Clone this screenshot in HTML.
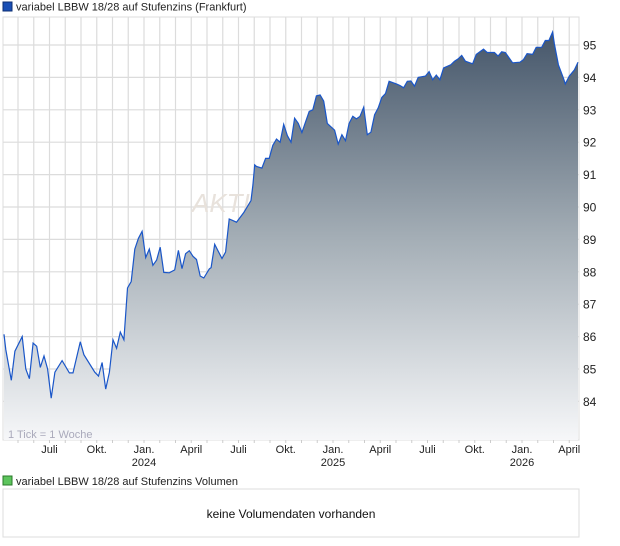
<!DOCTYPE html>
<html><head><meta charset="utf-8"><style>
html,body{margin:0;padding:0;background:#fff;width:620px;height:546px;overflow:hidden;font-family:"Liberation Sans",sans-serif;}
svg text{font-family:"Liberation Sans",sans-serif;}
</style></head><body>
<svg id="chart" width="620" height="546" viewBox="0 0 620 546" xmlns="http://www.w3.org/2000/svg">
<defs>
<linearGradient id="fillg" x1="0" y1="0" x2="0" y2="1">
<stop offset="0" stop-color="#45566a"/><stop offset="0.5" stop-color="#a3adb5"/><stop offset="1" stop-color="#f6f7f9"/>
</linearGradient>
</defs>
<rect x="3" y="2" width="9" height="9" fill="#1a4fb5" stroke="#0d2f73" stroke-width="1"/>
<text x="16" y="10.5" font-size="11" fill="#222">variabel LBBW 18/28 auf Stufenzins (Frankfurt)</text>
<rect x="3" y="17" width="576" height="423" fill="#fff" stroke="#ddd"/>
<g id="grid"></g>
<text x="192" y="212" font-size="26" font-style="italic" fill="#e8e2dc">AKTIENCHECK</text>
<g id="series"></g>
<text x="8" y="438" font-size="11" fill="#aab">1 Tick = 1 Woche</text>
<g id="yaxis"></g>
<g id="xaxis"></g>
<rect x="3" y="476" width="9" height="9" fill="#5cc45c" stroke="#2a7a2a" stroke-width="1"/>
<text x="16" y="485" font-size="11" fill="#222">variabel LBBW 18/28 auf Stufenzins Volumen</text>
<rect x="3" y="489" width="576" height="48" fill="#fff" stroke="#ddd"/>
<text x="291" y="518" font-size="12" fill="#111" text-anchor="middle">keine Volumendaten vorhanden</text>
</svg>
<script>
const weeks=[0,0.5,2,3,5,6,7,8,9,10,11,12,13,14,16,18,19,21,22,25,26,27,28,29,30,31,32,33,33.5,34,35,36,37,38,39,40,41,42,43,44,45.5,47,48,49,50,51,52,53,54,55,56.5,57,58,59,60,61,62,63,64,66,68,68.5,69,69.5,71,72,73,74,75,76,77,78,79,80,81,82,84,85,86,87,88,89,91,92,93,94,95,96,97,98,99,100,101,102,103,104,105,106,108,109,110,111,112,113,114,116,117,118,119,120,121,123,124,125,126,127,129,130,132,133,135,136,137,138,140,142,143,144,145.5,146.5,148,149,150,151,151.5,152.6,154,154.5,155.6,157,158];
const prices=[86.07,85.6,84.65,85.55,86.0,85.0,84.7,85.8,85.7,85.05,85.4,85.0,84.1,84.9,85.26,84.88,84.88,85.84,85.44,84.9,84.78,85.2,84.38,84.9,85.9,85.64,86.14,85.9,86.7,87.5,87.7,88.7,89.03,89.25,88.44,88.7,88.2,88.36,88.76,87.98,87.97,88.06,88.66,88.1,88.56,88.65,88.48,88.38,87.87,87.81,88.09,88.13,88.85,88.63,88.41,88.61,89.63,89.58,89.53,89.83,90.2,90.68,91.3,91.25,91.2,91.5,91.5,91.9,92.1,92.0,92.55,92.2,92.0,92.74,92.58,92.3,92.95,93.0,93.43,93.46,93.27,92.58,92.37,91.94,92.23,92.05,92.58,92.8,92.72,92.8,93.08,92.23,92.31,92.85,93.06,93.38,93.5,93.88,93.8,93.75,93.68,93.88,93.89,93.73,94.0,94.04,94.18,93.93,94.07,93.93,94.29,94.39,94.5,94.57,94.68,94.5,94.42,94.71,94.87,94.77,94.77,94.66,94.79,94.77,94.45,94.47,94.55,94.73,94.71,94.93,94.93,95.14,95.14,95.4,95.03,94.39,93.97,93.8,94.04,94.23,94.47];
const yTicks=[84,85,86,87,88,89,90,91,92,93,94,95];
const monthLabels=[["Juli",""],["Okt.",""],["Jan.","2024"],["April",""],["Juli",""],["Okt.",""],["Jan.","2025"],["April",""],["Juli",""],["Okt.",""],["Jan.","2026"],["April",""]];
const NS="http://www.w3.org/2000/svg";
const X0=4,X1=578,W0=0,W1=158;
const xs=w=>X0+(w-W0)*(X1-X0)/(W1-W0);
const ys=v=>45+(95-v)*32.4;
const grid=document.getElementById('grid'),series=document.getElementById('series'),ya=document.getElementById('yaxis'),xa=document.getElementById('xaxis');
function mk(t,a,p){const e=document.createElementNS(NS,t);for(const k in a)e.setAttribute(k,a[k]);p.appendChild(e);return e;}
// monthly vertical grid
for(let k=0;k<36;k++){const x=18+k*15.75;if(x>578)break;
const l=mk('line',{x1:x,y1:17,x2:x,y2:440,stroke:'#dcdcdc','stroke-width':1.2},grid);


const t=mk('line',{x1:x,y1:440,x2:x,y2:443,stroke:'#ccc'},xa);

}
yTicks.forEach(v=>{const y=ys(v);
const l=mk('line',{x1:3,y1:y,x2:579,y2:y,stroke:'#dcdcdc','stroke-width':1.2},grid);


const t=mk('text',{x:583,y:y+4.5,'font-size':12,fill:'#222'},ya);t.textContent=v;

});
monthLabels.forEach((m,i)=>{const k=2+i*3;const x=18+k*15.75;
const t=mk('text',{x:x,y:453,'font-size':11,fill:'#222','text-anchor':'middle'},xa);t.textContent=m[0];


if(m[1]){const t2=mk('text',{x:x,y:466,'font-size':11,fill:'#222','text-anchor':'middle'},xa);t2.textContent=m[1];

}});
let d='';weeks.forEach((w,i)=>{d+=(i?'L':'M')+xs(w).toFixed(1)+','+ys(prices[i]).toFixed(1);});
const area=mk('path',{d:d+'L'+xs(weeks[weeks.length-1])+',440L'+xs(weeks[0])+',440Z',fill:'url(#fillg)'},series);


const line=mk('path',{d:d,fill:'none',stroke:'#1a56c8','stroke-width':1.2},series);


</script>
</body></html>
